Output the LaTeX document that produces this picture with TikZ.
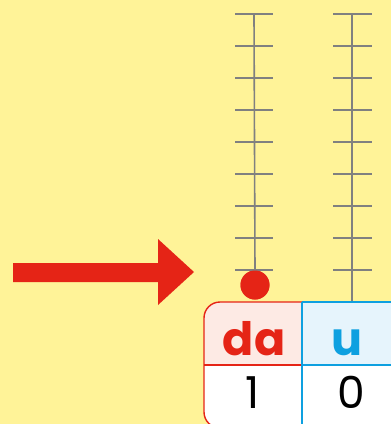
\documentclass[tikz,border=0pt]{standalone}
\usepackage{fontspec}
\setmainfont{Poppins}
\definecolor{bgyellow}{HTML}{FFF398}
\definecolor{abred}{HTML}{E52416}
\definecolor{abblue}{HTML}{0EA0E0}
\definecolor{pinkfill}{HTML}{FDEAE4}
\definecolor{bluefill}{HTML}{E6F4FC}
\definecolor{rodgray}{HTML}{808080}
\begin{document}
\begin{tikzpicture}[x=1pt,y=-1pt,
  rod/.style={draw=rodgray,line width=1.6pt},
  tick/.style={draw=rodgray,line width=1.6pt},
  head/.style={font=\fontsize{46}{46}\selectfont\bfseries,anchor=base,inner sep=0pt,text depth=0pt},
  digit/.style={font=\fontsize{44}{44}\selectfont,anchor=base,inner sep=0pt,text=black,text depth=0pt},
  redline/.style={draw=abred,line width=1.4pt},
  blueline/.style={draw=abblue,line width=1.4pt}]
\useasboundingbox (0,0) rectangle (391,424);
\clip (0,0) rectangle (391,424);
\fill[bgyellow] (0,0) rectangle (391,424);
% rods
\coordinate (lt) at (254,14);
\coordinate (rt) at (352,14);
\coordinate (rb) at (352,302);
\node[circle,fill=abred,minimum size=29pt,inner sep=0pt] (dot) at (255,285) {};
\draw[rod] (lt) -- (dot.north);
\draw[rod] (rt) -- (rb);
\foreach \y in {14,46,78,110,142,174,206,238,270}{
  \draw[tick] (235,\y) -- (273,\y);
  \draw[tick] (333,\y) -- (372,\y);
}
\node[circle,fill=abred,minimum size=29pt,inner sep=0pt] at (dot) {};
% arrow
\fill[abred] (13,263) -- (158,263) -- (158,239) -- (194,272) -- (158,305) -- (158,282) -- (13,282) -- cycle;
% table fills
\fill[white,rounded corners=16pt] (204,302) rectangle (440,428);
\begin{scope}
  \clip (204,302) rectangle (302,365);
  \fill[pinkfill,rounded corners=16pt] (204,302) rectangle (440,428);
\end{scope}
\fill[bluefill] (302,302) rectangle (440,365);
% table borders
\draw[redline,rounded corners=16pt] (302,302) -- (204,302) -- (204,428) -- (302,428);
\draw[redline] (204,365) -- (302,365);
\draw[blueline] (302,302) -- (440,302);
\draw[blueline] (302,365) -- (440,365);
\draw[blueline] (302,302) -- (302,430);
% texts
\node[head,text=abred] (da) at (254,355) {da};
\node[head,text=abblue] (u) at (347,355) {u};
\node[digit] (one) at (253,408) {1};
\node[digit] (zero) at (351,408) {0};
\end{tikzpicture}
\end{document}
